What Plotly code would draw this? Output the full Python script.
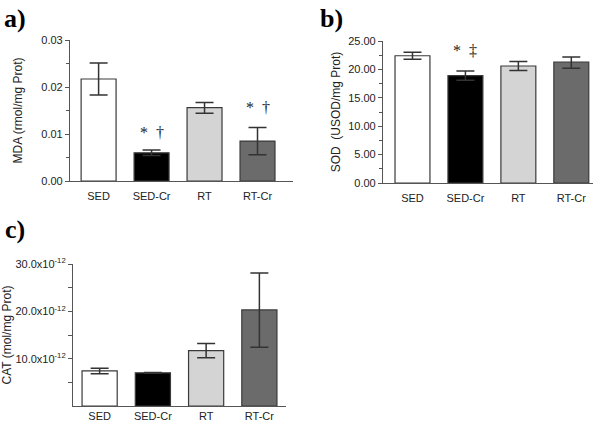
import plotly.graph_objects as go

categories = ["SED", "SED-Cr", "RT", "RT-Cr"]
bar_colors = ["#ffffff", "#000000", "#d4d4d4", "#6b6b6b"]

# Panel a: MDA
mda_values = [0.0217, 0.0060, 0.0156, 0.0085]
mda_err_plus = [0.0034, 0.0006, 0.0011, 0.0029]
mda_err_minus = [0.0034, 0.0006, 0.0012, 0.0029]

# Panel b: SOD
sod_values = [22.4, 18.9, 20.6, 21.3]
sod_err_plus = [0.6, 0.8, 0.8, 0.9]
sod_err_minus = [0.6, 0.8, 0.8, 1.1]

# Panel c: CAT
cat_values = [7.4e-12, 7.0e-12, 11.7e-12, 20.3e-12]
cat_err_plus = [0.6e-12, 0.1e-12, 1.5e-12, 7.8e-12]
cat_err_minus = [0.6e-12, 0.1e-12, 1.5e-12, 7.9e-12]

cat_tickvals = [10e-12, 20e-12, 30e-12]
cat_ticktext = ["10.0x10<sup>-12</sup>", "20.0x10<sup>-12</sup>", "30.0x10<sup>-12</sup>"]

W, H = 600, 424
def px(x):
    return x / W
def py(y):
    return 1 - y / H

font_main = "Liberation Sans, Arial, sans-serif"
line_col = "#555555"
txt_col = "#222222"

fig = go.Figure()

def add_bars(values, ep, em, xa, ya, ewidth):
    fig.add_trace(go.Bar(
        x=list(range(len(categories))), y=values,
        marker=dict(color=bar_colors, line=dict(color="#3a3a3a", width=1.2)),
        width=0.66,
        error_y=dict(type="data", array=ep, arrayminus=em, symmetric=False,
                     color="#333333", thickness=1.5, width=ewidth),
        xaxis=xa, yaxis=ya, showlegend=False, hoverinfo="skip",
    ))

add_bars(mda_values, mda_err_plus, mda_err_minus, "x", "y", 9)
add_bars(sod_values, sod_err_plus, sod_err_minus, "x2", "y2", 9)
add_bars(cat_values, cat_err_plus, cat_err_minus, "x3", "y3", 9)

xcommon = dict(tickmode="array", tickvals=[0, 1, 2, 3], ticktext=categories,
               showline=True, linecolor=line_col, linewidth=1.2, ticks="",
               showgrid=False, zeroline=False, fixedrange=True, automargin=False,
               tickfont=dict(family=font_main, size=11, color=txt_col))
ycommon = dict(showline=True, linecolor=line_col, linewidth=1.2, ticks="outside",
               ticklen=4, tickcolor=line_col, showgrid=False, zeroline=False,
               automargin=False,
               tickfont=dict(family=font_main, size=11, color=txt_col),
               title_font=dict(family=font_main, size=12, color=txt_col))

fig.update_layout(
    width=W, height=H, margin=dict(l=0, r=0, t=0, b=0, autoexpand=False),
    paper_bgcolor="white", plot_bgcolor="white",
    bargap=0.3,
    xaxis=dict(xcommon, domain=[px(70), px(293)], range=[-0.54, 3.67], anchor="y",
               ticklabelstandoff=5),
    yaxis=dict(ycommon, domain=[py(181), py(40)], range=[0, 0.03], anchor="x",
               tickvals=[0, 0.01, 0.02, 0.03], ticktext=["0.00", "0.01", "0.02", "0.03"],
               minor=dict(tickmode="array", tickvals=[0.005, 0.015, 0.025], ticklen=3, tickcolor=line_col, ticks="outside"),
               title=dict(text="MDA (rmol/mg Prot)", standoff=16)),
    xaxis2=dict(xcommon, domain=[px(383), px(593)], range=[-0.557, 3.41], anchor="y2",
                ticklabelstandoff=5),
    yaxis2=dict(ycommon, domain=[py(183), py(41)], range=[0, 25], anchor="x2",
                tickvals=[0, 5, 10, 15, 20, 25], ticktext=["0.00", "5.00", "10.00", "15.00", "20.00", "25.00"],
                minor=dict(tickmode="array", tickvals=[2.5, 7.5, 12.5, 17.5, 22.5], ticklen=3, tickcolor=line_col, ticks="outside"),
                title=dict(text="SOD  (USOD/mg Prot)", standoff=4)),
    xaxis3=dict(xcommon, domain=[px(73), px(286)], range=[-0.5, 3.5], anchor="y3"),
    yaxis3=dict(ycommon, domain=[py(406), py(264)], range=[0, 30e-12], anchor="x3",
                tickvals=cat_tickvals, ticktext=cat_ticktext,
                minor=dict(tickmode="array", tickvals=[5e-12, 15e-12, 25e-12], ticklen=4, tickcolor=line_col, ticks="outside"),
                title=dict(text="CAT (mol/mg Prot)", standoff=4)),
)

ann_font = dict(family="Liberation Serif, Times New Roman, serif", size=16, color="#222222")
annots = [
    dict(x=1, y=0.0104, xref="x", yref="y", text="*  †"),
    dict(x=3, y=0.0157, xref="x", yref="y", text="*  †"),
    dict(x=1, y=23.4, xref="x2", yref="y2", text="*  ‡"),
    dict(x=3, y=31.5e-12, xref="x3", yref="y3", text="*  §"),
]
for a in annots:
    fig.add_annotation(**a, showarrow=False, font=ann_font)

label_font = dict(family="Liberation Serif, Times New Roman, serif", size=26, color="black")
for txt, x, y in [("<b>a)</b>", 15, 18), ("<b>b)</b>", 331, 18), ("<b>c)</b>", 15, 229)]:
    fig.add_annotation(x=px(x), y=py(y), xref="paper", yref="paper", text=txt,
                       showarrow=False, font=label_font, xanchor="center", yanchor="middle")

fig.write_html("out.html", config={"displayModeBar": False},
               post_script="document.body.style.margin='0';document.body.style.overflow='hidden';")
